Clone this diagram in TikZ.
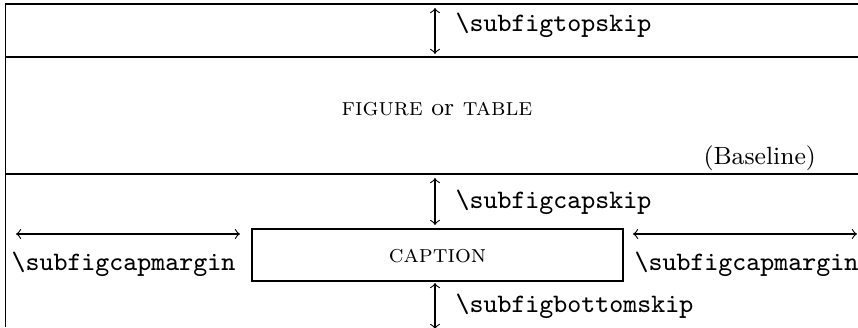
\documentclass[tikz,border=0pt]{standalone}
\usetikzlibrary{arrows}
\tikzset{
  ttlabel/.style={inner sep=0pt, anchor=base west, font=\fontsize{9.4}{11}\ttfamily},
  rmfont/.style={font=\fontsize{8.8}{10}\selectfont},
  rmlabel/.style={inner sep=0pt, anchor=base, rmfont},
  frame/.style={line width=0.4pt},
  dim/.style={line width=0.4pt, <->, >=to},
}
\begin{document}
\begin{tikzpicture}[x=0.3529pt,y=-0.3529pt]
\useasboundingbox (0,0) rectangle (858,327);
% frame lines
\coordinate (tl) at (5.5,4);
\coordinate (tr) at (858,4);
\coordinate (ml) at (5.5,57);
\coordinate (mr) at (858,57);
\coordinate (bl) at (5.5,174);
\coordinate (br) at (858,174);
\coordinate (lb) at (5.5,327);
\draw[frame] (tr) -- (tl) -- (lb);
\draw[frame] (ml) -- (mr);
\draw[frame] (bl) -- (br);
% texts
\node[ttlabel] (topskip) at (455,31) {\textbackslash subfigtopskip};
\node[rmlabel] (figtab) at (437,115) {\textsc{figure} or \textsc{table}};
\node[inner sep=0pt, anchor=base west, rmfont] (base) at (703,164) {(Baseline)};
\node[ttlabel] (capskip) at (455,208) {\textbackslash subfigcapskip};
\node[draw, frame, minimum width=130.9pt, minimum height=18.35pt, inner sep=0pt] (cap) at (437.5,255) {};
\node[rmlabel] (captxt) at (437.5,262) {\textsc{caption}};
\node[ttlabel] (lmargin) at (11,270) {\textbackslash subfigcapmargin};
\node[ttlabel] (rmargin) at (634,270) {\textbackslash subfigcapmargin};
\node[ttlabel] (botskip) at (455,312) {\textbackslash subfigbottomskip};
% dimension arrows
\coordinate (a1) at (435,8);
\coordinate (a2) at (435,54);
\coordinate (b1) at (435,178);
\coordinate (b2) at (435,225);
\coordinate (c1) at (435,283);
\coordinate (c2) at (435,329);
\coordinate (l1) at (16,234);
\coordinate (l2) at (240,234);
\coordinate (r1) at (633,234);
\coordinate (r2) at (857,234);
\draw[dim] (a1) -- (a2);
\draw[dim] (b1) -- (b2);
\draw[dim] (c1) -- (c2);
\draw[dim] (l1) -- (l2);
\draw[dim] (r1) -- (r2);
\end{tikzpicture}
\end{document}
